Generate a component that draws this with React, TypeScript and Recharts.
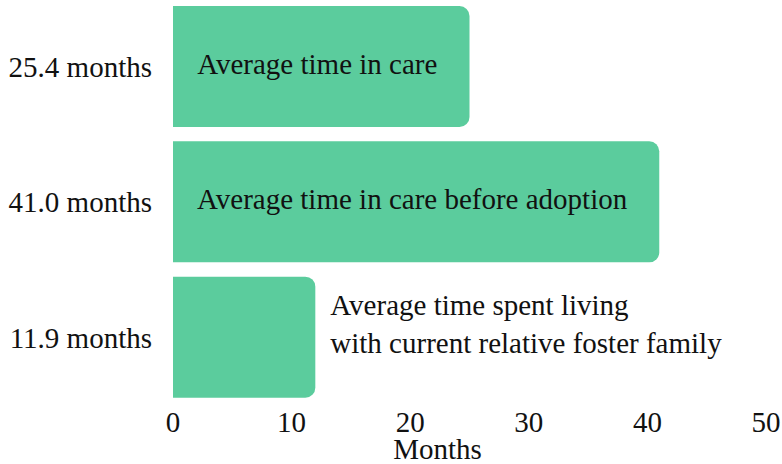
import { BarChart, Bar, XAxis, YAxis, LabelList } from "recharts";

const FONT = "'Liberation Serif', 'DejaVu Serif', serif";

const descriptions = [
  ["Average time in care"],
  ["Average time in care before adoption"],
  ["Average time spent living", "with current relative foster family"],
];
// bar lengths as drawn in the reference
const months = [25.0, 41.0, 12.0];
const tickLabels = ["25.4 months", "41.0 months", "11.9 months"];
const xTicks = [0, 10, 20, 30, 40, 50];

const data = months.map((value, i) => ({
  tick: tickLabels[i],
  value,
}));

const BarText = (props: any) => {
  const { x, y, width, height, index } = props;
  const lines = descriptions[index];
  const cy = y + height / 2;
  if (lines.length === 1) {
    return (
      <text
        x={x + width / 2 - 4}
        y={cy + 7}
        textAnchor="middle"
        fontFamily={FONT}
        fontSize={29}
        fill="#111"
      >
        {lines[0]}
      </text>
    );
  }
  return (
    <text x={x + width + 15} y={cy - 22} textAnchor="start" fontFamily={FONT} fontSize={29} fill="#111">
      {lines.map((l, i) => (
        <tspan key={i} x={x + width + 15} dy={i === 0 ? 0 : 38}>
          {l}
        </tspan>
      ))}
    </text>
  );
};

const MonthsLabel = (props: any) => {
  const { viewBox } = props;
  const cx = viewBox.x + viewBox.width / 2 - 32;
  return (
    <text x={cx} y={viewBox.y + viewBox.height - 5} textAnchor="middle" fontFamily={FONT} fontSize={29} fill="#111">
      Months
    </text>
  );
};

export default function App() {
  return (
    <div style={{ position: "absolute", left: 0, top: 0, background: "#fff" }}>
      <BarChart
        width={782}
        height={464}
        data={data}
        layout="vertical"
        margin={{ top: -1, right: 16, bottom: 0, left: 0 }}
      >
        <XAxis
          type="number"
          domain={[0, 50]}
          ticks={xTicks}
          axisLine={false}
          tickLine={false}
          tickSize={0}
          tickMargin={6}
          height={59}
          tick={{ fontFamily: FONT, fontSize: 29, fill: "#111" }}
          label={<MonthsLabel />}
        />
        <YAxis
          type="category"
          dataKey="tick"
          width={173}
          axisLine={false}
          tickLine={false}
          tickSize={0}
          tickMargin={21}
          tick={{ fontFamily: FONT, fontSize: 29, fill: "#111" }}
        />
        <Bar dataKey="value" fill="#5BCC9D" barSize={121} radius={[0, 10, 10, 0]} isAnimationActive={false}>
          <LabelList dataKey="value" content={<BarText />} />
        </Bar>
      </BarChart>
    </div>
  );
}
